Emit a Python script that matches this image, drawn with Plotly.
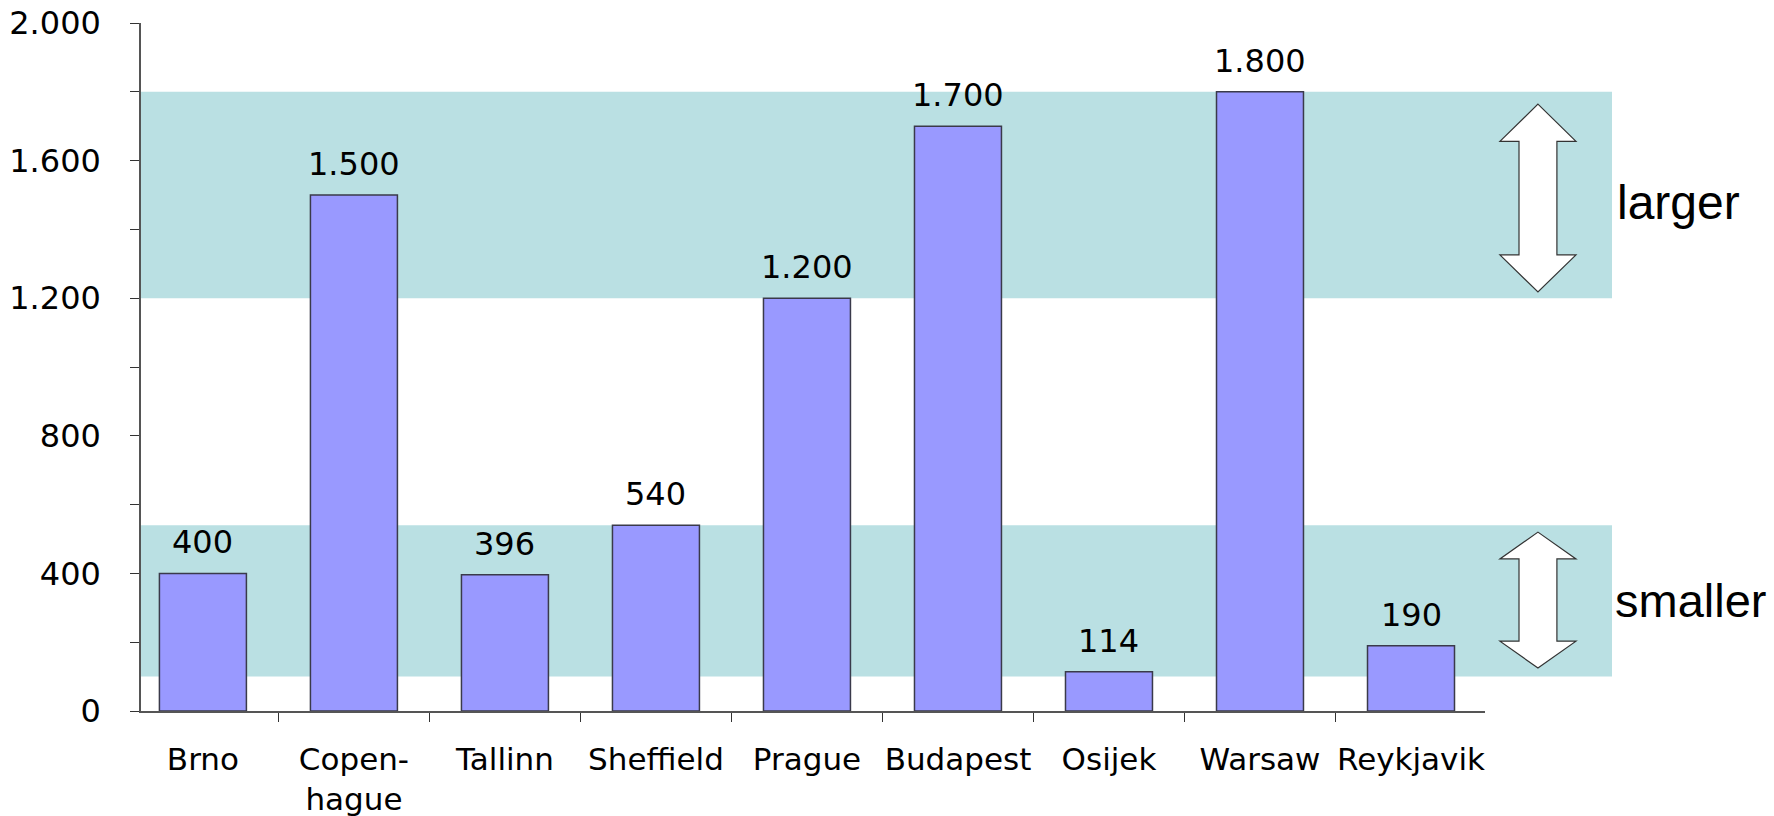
import plotly.graph_objects as go

# ---- data ----
cities = ["Brno", "Copenhague", "Tallinn", "Sheffield", "Prague",
          "Budapest", "Osijek", "Warsaw", "Reykjavik"]
city_labels = ["Brno", "Copen-<br>hague", "Tallinn", "Sheffield", "Prague",
               "Budapest", "Osijek", "Warsaw", "Reykjavik"]
values = [400, 1500, 396, 540, 1200, 1700, 114, 1800, 190]
y_ticks = [0, 400, 800, 1200, 1600, 2000]
y_tick_labels = ["0", "400", "800", "1.200", "1.600", "2.000"]
larger_band = [1200, 1800]
smaller_band = [100, 540]
larger_arrow = [1218, 1764]
smaller_arrow = [125, 520]

def fmt(v):
    return f"{v:,}".replace(",", ".")

FONT = "DejaVu Sans"
fig = go.Figure()
fig.add_trace(go.Bar(
    x=cities, y=values, width=0.576,
    marker=dict(color="#9999FF", line=dict(color="#3a3a4a", width=1.5)),
    hoverinfo="skip", showlegend=False,
))

shapes = []
for lo, hi in (larger_band, smaller_band):
    shapes.append(dict(type="rect", xref="paper", yref="y", x0=0, x1=1.0945,
                       y0=lo, y1=hi, fillcolor="#BAE0E3", line=dict(width=0),
                       layer="below"))

def double_arrow(lo, hi, head):
    cx, hw, sw = 1.0394, 0.0283, 0.0141
    pts = [(cx, hi), (cx + hw, hi - head), (cx + sw, hi - head), (cx + sw, lo + head),
           (cx + hw, lo + head), (cx, lo), (cx - hw, lo + head), (cx - sw, lo + head),
           (cx - sw, hi - head), (cx - hw, hi - head)]
    path = "M " + " L ".join(f"{x},{y}" for x, y in pts) + " Z"
    return dict(type="path", xref="paper", yref="y", path=path,
                fillcolor="white", line=dict(color="#333333", width=1.2))

shapes.append(double_arrow(larger_arrow[0], larger_arrow[1], 108))
shapes.append(double_arrow(smaller_arrow[0], smaller_arrow[1], 78))

annotations = []
for c, v in zip(cities, values):
    annotations.append(dict(x=c, y=v, xref="x", yref="y", text=fmt(v),
                            showarrow=False, yanchor="bottom", yshift=10,
                            font=dict(family=FONT, size=32, color="black")))
annotations.append(dict(x=1.0970, y=1478, xref="paper", yref="y", text="larger",
                        showarrow=False, xanchor="left", yanchor="middle",
                        font=dict(family="Liberation Sans", size=48, color="black")))
annotations.append(dict(x=1.0950, y=322, xref="paper", yref="y", text="smaller",
                        showarrow=False, xanchor="left", yanchor="middle",
                        font=dict(family="Liberation Sans", size=47, color="black")))

fig.update_layout(
    width=1774, height=816,
    margin=dict(l=141, r=289, t=23, b=105, autoexpand=False),
    paper_bgcolor="white", plot_bgcolor="rgba(0,0,0,0)",
    shapes=shapes, annotations=annotations,
    font=dict(family=FONT, size=32, color="black"),
    bargap=0.4,
)
fig.update_xaxes(
    type="category", range=[-0.41, 8.49], automargin=False,
    tickmode="array", tickvals=cities, ticktext=city_labels, tickangle=0,
    tickson="boundaries", ticks="outside", ticklen=9, tickcolor="#333333",
    showline=True, linecolor="#555555", linewidth=1.5,
    showgrid=False, zeroline=False,
    tickfont=dict(family=FONT, size=31, color="black"),
    ticklabelstandoff=20, ticklabeloverflow="allow",
)
fig.update_yaxes(
    range=[0, 2000], automargin=False,
    tickmode="array", tickvals=y_ticks, ticktext=y_tick_labels,
    ticks="outside", ticklen=9, tickcolor="#333333",
    minor=dict(dtick=200, ticks="outside", ticklen=9, tickcolor="#333333"),
    showline=True, linecolor="#555555", linewidth=1.5,
    showgrid=False, zeroline=False,
    tickfont=dict(family=FONT, size=32, color="black"),
    ticklabelstandoff=23, ticklabeloverflow="allow",
)
fig.write_html("out.html", config={"displayModeBar": False},
               post_script="document.body.style.margin='0px';")
